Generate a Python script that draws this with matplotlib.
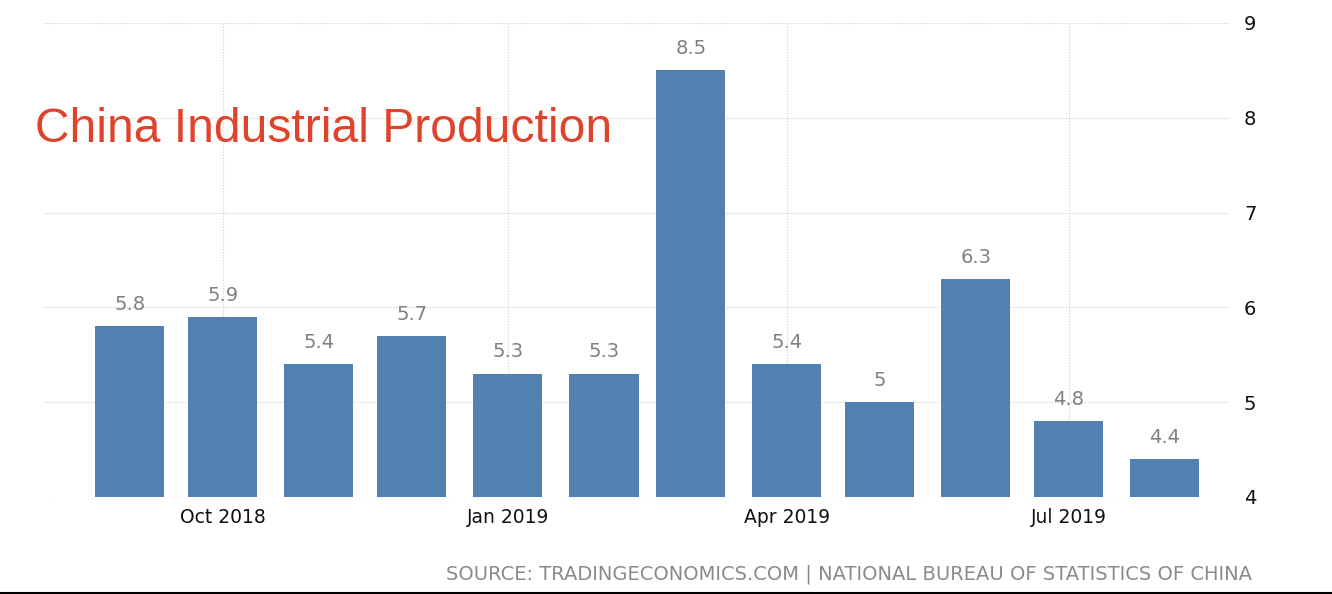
import matplotlib
matplotlib.use("Agg")
import matplotlib.pyplot as plt
import matplotlib.dates as mdates
from matplotlib.lines import Line2D
import datetime as dt

months = ["2018-09", "2018-10", "2018-11", "2018-12", "2019-01", "2019-02",
          "2019-03", "2019-04", "2019-05", "2019-06", "2019-07", "2019-08"]
values = [5.8, 5.9, 5.4, 5.7, 5.3, 5.3, 8.5, 5.4, 5.0, 6.3, 4.8, 4.4]
labels = ["5.8", "5.9", "5.4", "5.7", "5.3", "5.3", "8.5", "5.4", "5", "6.3", "4.8", "4.4"]
xtick_months = ["2018-10", "2019-01", "2019-04", "2019-07"]
xtick_labels = ["Oct 2018", "Jan 2019", "Apr 2019", "Jul 2019"]
yticks = [4, 5, 6, 7, 8, 9]

dates = [dt.datetime.strptime(m + "-01", "%Y-%m-%d") for m in months]
xt = [dt.datetime.strptime(m + "-01", "%Y-%m-%d") for m in xtick_months]

fig = plt.figure(figsize=(13.32, 5.94), dpi=100)
ax = fig.add_axes([43/1332, 1-497/594, (1230-43)/1332, (497-23)/594])

bar_color = "#5181b0"
ax.bar(dates, [v - 4 for v in values], bottom=4, width=22.3, color=bar_color, zorder=3)
for d, v, l in zip(dates, values, labels):
    ax.text(d, v + 0.13, l, ha="center", va="bottom", fontsize=14, color="#808080",
            family="DejaVu Sans", zorder=4)

ax.set_xlim(dt.datetime(2018, 8, 4), dt.datetime(2019, 8, 22))
ax.set_ylim(4, 9)
ax.set_xticks(xt)
ax.set_xticklabels(xtick_labels, fontsize=13.5, color="#111111")
ax.set_yticks(yticks)
ax.set_yticklabels([str(y) for y in yticks], fontsize=14, color="#111111")
ax.yaxis.tick_right()
ax.tick_params(axis="both", length=0)
ax.tick_params(axis="y", pad=10)
ax.tick_params(axis="x", pad=8)
ax.grid(True, color="#cfcfcf", linestyle=(0, (1, 1.5)), linewidth=0.8, zorder=0)
for s in ax.spines.values():
    s.set_visible(False)

fig.text(35/1332, 1-130/594, "China Industrial Production", fontsize=34.6,
         color="#e0432b", family="Liberation Sans", ha="left", va="center")
fig.text(1252/1332, 1-574/594,
         "SOURCE: TRADINGECONOMICS.COM | NATIONAL BUREAU OF STATISTICS OF CHINA",
         fontsize=14, color="#8a8a8a", ha="right", va="center")
fig.add_artist(Line2D([0, 1], [1-592.5/594, 1-592.5/594], transform=fig.transFigure,
                      color="black", linewidth=1.5))

fig.savefig("out.png", dpi=100)
